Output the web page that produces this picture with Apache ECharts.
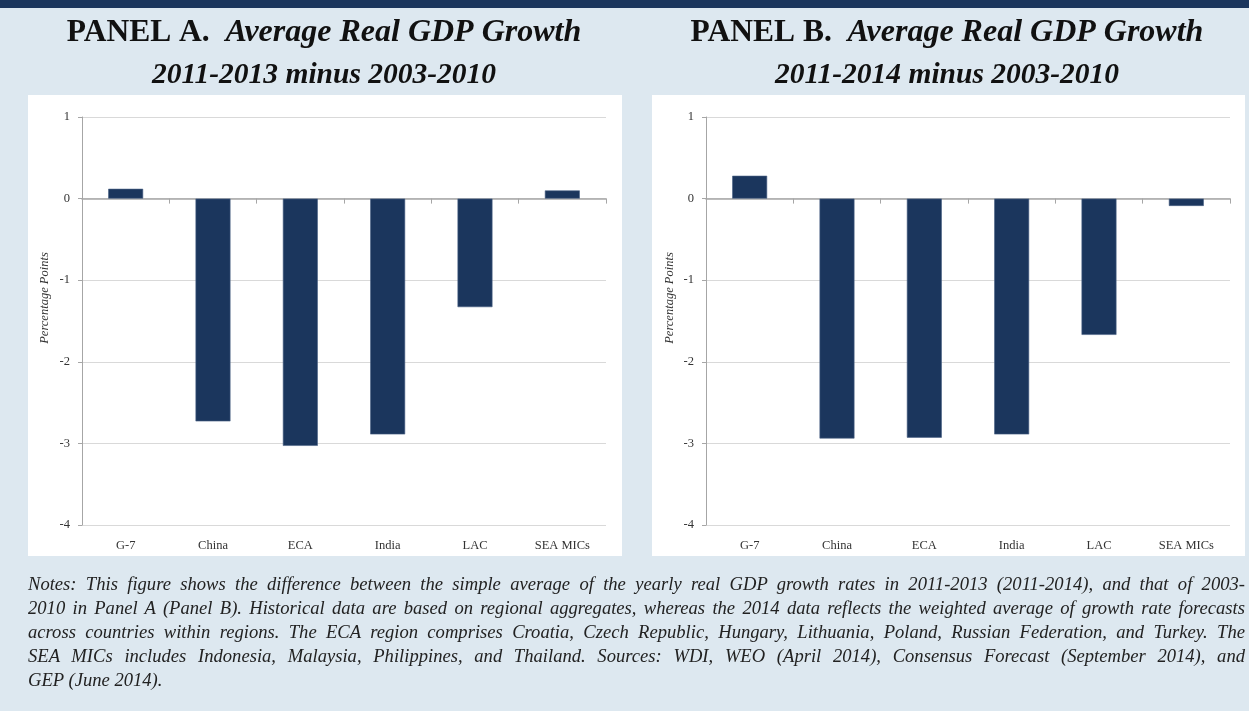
<!DOCTYPE html>
<html>
<head>
<meta charset="utf-8">
<script src="https://cdn.jsdelivr.net/npm/echarts@6/dist/echarts.min.js"></script>
<style>
  html, body { margin: 0; padding: 0; background: #dde8f0; }
  #wrap { position: relative; width: 1249px; height: 711px; overflow: hidden; background: #dde8f0; }
  #chart { position: absolute; left: 0; top: 0; width: 1249px; height: 711px; }
  #notes { position: absolute; left: 28px; top: 572px; width: 1217px; font-family: "Liberation Serif", "DejaVu Serif", serif; font-style: italic; font-size: 18.6px; line-height: 24px; color: #222; }
  #notes div { text-align: justify; text-align-last: justify; white-space: nowrap; }
  #notes div.last { text-align-last: left; }
</style>
</head>
<body>
<div id="wrap">
  <div id="chart"></div>
  <div id="notes">
    <div>Notes: This figure shows the difference between the simple average of the yearly real GDP growth rates in 2011-2013 (2011-2014), and that of 2003-</div>
    <div>2010 in Panel A (Panel B). Historical data are based on regional aggregates, whereas the 2014 data reflects the weighted average of growth rate forecasts</div>
    <div>across countries within regions. The ECA region comprises Croatia, Czech Republic, Hungary, Lithuania, Poland, Russian Federation, and Turkey. The</div>
    <div>SEA MICs includes Indonesia, Malaysia, Philippines, and Thailand. Sources: WDI, WEO (April 2014), Consensus Forecast (September 2014), and</div>
    <div class="last">GEP (June 2014).</div>
  </div>
</div>
<script>
const categories = ['G-7', 'China', 'ECA', 'India', 'LAC', 'SEA MICs'];
const panelAValues = [0.12, -2.73, -3.03, -2.89, -1.33, 0.10];
const panelBValues = [0.28, -2.94, -2.93, -2.89, -1.67, -0.09];
const yTicks = { min: -4, max: 1, interval: 1 };
const titleA = ['PANEL A.', 'Average Real GDP Growth', '2011-2013 minus 2003-2010'];
const titleB = ['PANEL B.', 'Average Real GDP Growth', '2011-2014 minus 2003-2010'];
const yName = 'Percentage Points';

const serif = '"Liberation Serif", "DejaVu Serif", serif';
const barColor = '#1b365d';

const chart = echarts.init(document.getElementById('chart'), null, { renderer: 'canvas' });

function makeTitle(t, cx) {
  return {
    text: t[0] + '  {bi1|' + t[1] + '}\n{bi2|' + t[2] + '}',
    left: cx,
    top: 12,
    padding: 0,
    textAlign: 'center',
    textStyle: {
      fontFamily: serif, fontSize: 31.5, fontWeight: 'bold', color: '#111', lineHeight: 42,
      rich: {
        bi1: { fontFamily: serif, fontSize: 32, fontWeight: 'bold', fontStyle: 'italic', color: '#111', lineHeight: 42 },
        bi2: { fontFamily: serif, fontSize: 29.5, fontWeight: 'bold', fontStyle: 'italic', color: '#111', lineHeight: 42 }
      }
    }
  };
}

function yAxisFor(gi) {
  return {
    type: 'value', gridIndex: gi, min: yTicks.min, max: yTicks.max, interval: yTicks.interval,
    axisLine: { show: true, lineStyle: { color: '#a6a6a6', width: 1 } },
    axisTick: { show: true, length: 4, lineStyle: { color: '#a6a6a6' } },
    splitLine: { show: true, lineStyle: { color: '#d9d9d9', width: 1 } },
    axisLabel: { fontFamily: serif, fontSize: 12.5, color: '#333', margin: 12 }
  };
}
function xLabelAxis(gi) {
  return {
    type: 'category', gridIndex: gi, data: categories, position: 'bottom',
    axisLine: { show: false, onZero: false }, axisTick: { show: false },
    axisLabel: { fontFamily: serif, fontSize: 12.5, color: '#333', margin: 14 },
    splitLine: { show: false }
  };
}
function xZeroAxis(gi, yi) {
  return {
    type: 'category', gridIndex: gi, data: categories, position: 'top',
    axisLine: { show: true, onZero: true, onZeroAxisIndex: yi, lineStyle: { color: '#a6a6a6', width: 1.5 } },
    axisTick: { show: true, inside: true, length: 5, lineStyle: { color: '#a6a6a6' } },
    axisLabel: { show: false }, splitLine: { show: false }
  };
}

const option = {
  backgroundColor: 'transparent',
  animation: false,
  title: [makeTitle(titleA, 324), makeTitle(titleB, 947)],
  graphic: [
    { type: 'rect', z: -10, shape: { x: 0, y: 0, width: 1249, height: 8 }, style: { fill: '#1b365d' } },
    { type: 'rect', z: -10, shape: { x: 28, y: 95, width: 594, height: 461 }, style: { fill: '#ffffff' } },
    { type: 'rect', z: -10, shape: { x: 652, y: 95, width: 593, height: 461 }, style: { fill: '#ffffff' } },
    { type: 'text', x: 45, y: 298, rotation: Math.PI / 2, style: { text: yName, font: 'italic 12.5px ' + serif, fill: '#333', align: 'center', verticalAlign: 'middle' } },
    { type: 'text', x: 670, y: 298, rotation: Math.PI / 2, style: { text: yName, font: 'italic 12.5px ' + serif, fill: '#333', align: 'center', verticalAlign: 'middle' } }
  ],
  grid: [
    { left: 82, top: 117, width: 524, height: 408, containLabel: false },
    { left: 706, top: 117, width: 524, height: 408, containLabel: false }
  ],
  xAxis: [xLabelAxis(0), xZeroAxis(0, 0), xLabelAxis(1), xZeroAxis(1, 1)],
  yAxis: [yAxisFor(0), yAxisFor(1)],
  series: [
    { type: 'bar', xAxisIndex: 0, yAxisIndex: 0, data: panelAValues, barWidth: '40%', itemStyle: { color: barColor, borderColor: '#4a6184', borderWidth: 0.6 } },
    { type: 'bar', xAxisIndex: 2, yAxisIndex: 1, data: panelBValues, barWidth: '40%', itemStyle: { color: barColor, borderColor: '#4a6184', borderWidth: 0.6 } }
  ]
};
chart.setOption(option);
</script>
</body>
</html>
